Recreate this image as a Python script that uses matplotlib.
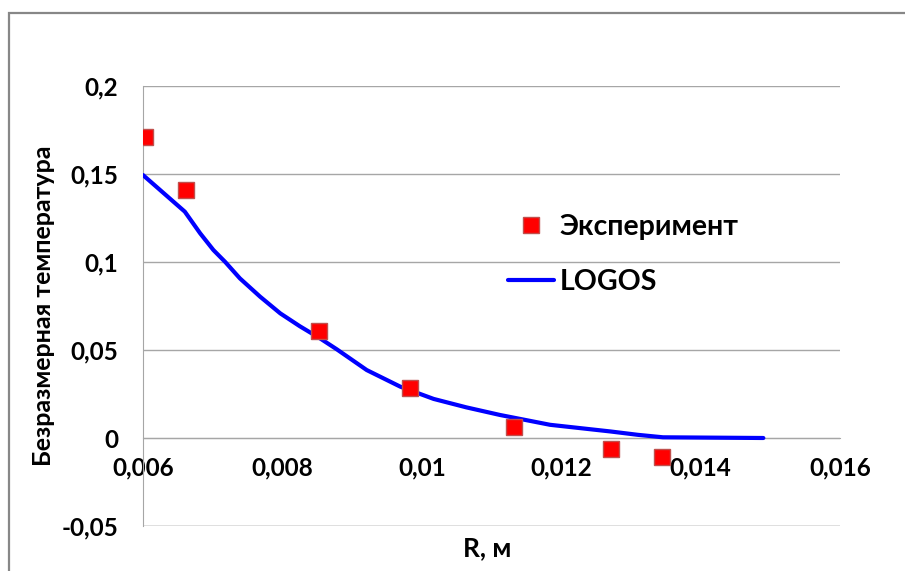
"""Dimensionless temperature vs radius: experiment against LOGOS."""

import matplotlib
matplotlib.use("Agg")
import matplotlib.pyplot as plt
from matplotlib.patches import Rectangle
from matplotlib.ticker import FuncFormatter

# experimental points
exp_r = [0.00603, 0.00662, 0.00853, 0.00983, 0.01132, 0.01272, 0.01344]
exp_t = [0.171, 0.141, 0.061, 0.0284, 0.0064, -0.0063, -0.011]

# LOGOS calculation
logos_r = [0.0060, 0.00660, 0.00682, 0.00701, 0.00718, 0.00739, 0.00768,
           0.00797, 0.00825, 0.00854, 0.00878, 0.00921, 0.00969, 0.01017,
           0.01064, 0.01112, 0.01184, 0.01271, 0.01310, 0.01346, 0.0149]
logos_t = [0.1494, 0.1286, 0.1163, 0.1068, 0.1000, 0.0907, 0.0803,
           0.0708, 0.0635, 0.0566, 0.0504, 0.0386, 0.0292, 0.0222,
           0.0174, 0.0131, 0.0075, 0.0037, 0.0018, 0.0004, 0.0]

x_ticks = [0.006, 0.008, 0.010, 0.012, 0.014, 0.016]
y_ticks = [-0.05, 0.0, 0.05, 0.10, 0.15, 0.20]

GRID = "#a6a6a6"


def comma_fmt(v, _pos):
    s = f"{v:.3f}".rstrip("0").rstrip(".")
    if s in ("-0", ""):
        s = "0"
    return s.replace(".", ",")


def main() -> None:
    plt.rcParams["font.family"] = ["Lato", "DejaVu Sans"]
    plt.rcParams["font.weight"] = "bold"

    fig = plt.figure(figsize=(9.05, 5.71), dpi=100)
    ax = fig.add_axes([143 / 905, 45 / 571, 697 / 905, 440 / 571])

    # outer chart frame, cut off on the right and bottom
    fig.patches.append(Rectangle((9 / 905, -0.2), 1.2, 1.2 - 13 / 571,
                                 transform=fig.transFigure, fill=False,
                                 edgecolor="#878787", linewidth=1.6))

    ax.plot(logos_r, logos_t, color="#0000ff", linewidth=3.0,
            solid_capstyle="round", solid_joinstyle="round",
            label="LOGOS", zorder=3)
    ax.plot(exp_r, exp_t, linestyle="none", marker="s", markersize=11,
            markerfacecolor="#ff0000", markeredgecolor="#c0504d",
            markeredgewidth=1.0, label="Эксперимент", zorder=4)

    ax.set_xlim(0.006, 0.016)
    ax.set_ylim(-0.05, 0.2)
    ax.set_xticks(x_ticks)
    ax.set_yticks(y_ticks)
    ax.xaxis.set_major_formatter(FuncFormatter(comma_fmt))
    ax.yaxis.set_major_formatter(FuncFormatter(comma_fmt))

    ax.yaxis.grid(True, color=GRID, linewidth=1.0)
    ax.set_axisbelow(True)
    for side in ("top", "right"):
        ax.spines[side].set_visible(False)
    ax.spines["bottom"].set_position(("data", 0))
    ax.spines["bottom"].set_color(GRID)
    ax.spines["left"].set_color(GRID)
    ax.axhline(-0.05, color=GRID, linewidth=1.0, zorder=0)

    ax.tick_params(axis="x", length=0, pad=13, labelsize=17.5)
    ax.tick_params(axis="y", length=0, pad=18, labelsize=17.5)

    ax.set_ylabel("Безразмерная температура", fontsize=18, fontweight="bold")
    ax.yaxis.set_label_coords(-0.126, 0.5)
    fig.text(487 / 905, 1 - 548 / 571, "R, м", fontsize=19, fontweight="bold",
             ha="center", va="center")

    handles, labels = ax.get_legend_handles_labels()
    ax.legend(handles[::-1], labels[::-1], loc="center left",
              bbox_to_anchor=(354 / 697, 0.617), frameon=False,
              fontsize=20.5, handlelength=1.6, handletextpad=0.2,
              labelspacing=1.0, borderaxespad=0)

    fig.savefig("out.png", dpi=100)
    plt.close(fig)


if __name__ == "__main__":
    main()
